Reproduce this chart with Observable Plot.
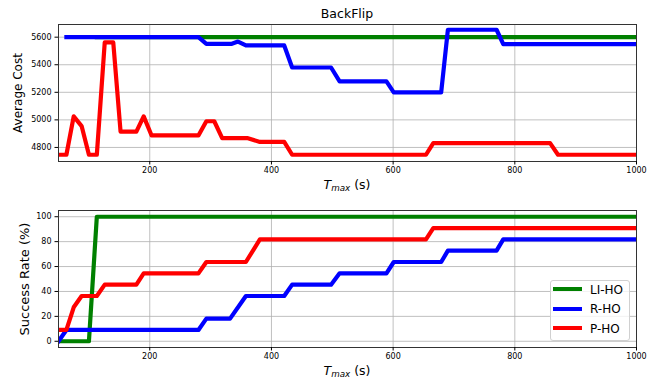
<!DOCTYPE html>
<html>
<head>
<meta charset="utf-8">
<script src="https://cdn.jsdelivr.net/npm/d3@7"></script>
<script src="https://cdn.jsdelivr.net/npm/@observablehq/plot@0.6"></script>
<style>
  html, body { margin: 0; padding: 0; background: #fff; }
  #wrap { position: relative; width: 657px; height: 383px; overflow: hidden; font-family: "DejaVu Sans", sans-serif; }
  #wrap svg { position: absolute; left: 0; }
  .t { position: absolute; line-height: 1; white-space: nowrap; color: #000; font-family: "DejaVu Sans", sans-serif; }
  .t sub { font-size: 70%; vertical-align: -0.2em; line-height: 0; }
  .rot { transform: translate(-50%, -50%) rotate(-90deg); }
</style>
</head>
<body>
<div id="wrap"></div>
<script>
// ---------- data ----------
const seriesNames = ["LI-HO", "R-HO", "P-HO"];
const seriesColors = ["#008000", "#0000ff", "#ff0000"];

const xTicks = [200, 400, 600, 800, 1000];
const costTicks = [4800, 5000, 5200, 5400, 5600];
const rateTicks = [0, 20, 40, 60, 80, 100];

// Average cost (top panel)
const costLI_x = [113, 1000];
const costLI_y = [5600, 5600];
const costR_x = [63, 280, 293, 335, 345, 358, 421, 434, 498, 512, 589, 601, 679, 690, 770, 781, 1000];
const costR_y = [5600, 5600, 5552, 5552, 5568, 5540, 5540, 5380, 5380, 5280, 5280, 5200, 5200, 5654, 5654, 5550, 5550];
const costP_x = [50, 63, 75, 88, 100, 113, 126, 140, 152, 178, 190, 203, 280, 293, 306, 319, 360, 381, 421, 434, 654, 666, 858, 871, 1000];
const costP_y = [4747, 4747, 5025, 4955, 4747, 4747, 5562, 5562, 4915, 4915, 5025, 4887, 4887, 4990, 4990, 4868, 4868, 4840, 4840, 4747, 4747, 4831, 4831, 4747, 4747];

// Success rate (bottom panel)
const rateLI_x = [50, 100, 113, 1000];
const rateLI_y = [0, 0, 100, 100];
const rateR_x = [50, 63, 280, 293, 332, 358, 421, 434, 498, 512, 589, 601, 679, 690, 770, 781, 1000];
const rateR_y = [0, 9.09, 9.09, 18.18, 18.18, 36.36, 36.36, 45.45, 45.45, 54.55, 54.55, 63.64, 63.64, 72.73, 72.73, 81.82, 81.82];
const rateP_x = [50, 63, 75, 88, 113, 126, 178, 190, 280, 293, 358, 381, 654, 666, 1000];
const rateP_y = [9.09, 9.09, 27.27, 36.36, 36.36, 45.45, 45.45, 54.55, 54.55, 63.64, 63.64, 81.82, 81.82, 90.91, 90.91];

// ---------- build ----------
const rows = (xs, ys, name) => xs.map((x, i) => ({x, y: ys[i], series: name}));
const costData = [
  ...rows(costLI_x, costLI_y, "LI-HO"),
  ...rows(costR_x, costR_y, "R-HO"),
  ...rows(costP_x, costP_y, "P-HO")
];
const rateData = [
  ...rows(rateLI_x, rateLI_y, "LI-HO"),
  ...rows(rateR_x, rateR_y, "R-HO"),
  ...rows(rateP_x, rateP_y, "P-HO")
];

function panel({data, yDomain, yTicks, height, marginTop, marginBottom}) {
  return Plot.plot({
    width: 657, height, marginLeft: 58, marginRight: 21, marginTop, marginBottom,
    style: {fontFamily: "DejaVu Sans, sans-serif", fontSize: "8px", color: "#000", background: "transparent"},
    x: {domain: [50, 1000]},
    y: {domain: yDomain},
    color: {domain: seriesNames, range: seriesColors},
    marks: [
      Plot.gridX(xTicks, {stroke: "#b0b0b0", strokeOpacity: 1, strokeWidth: 0.8}),
      Plot.gridY(yTicks, {stroke: "#b0b0b0", strokeOpacity: 1, strokeWidth: 0.8}),
      Plot.line(data, {x: "x", y: "y", z: "series", stroke: "series", strokeWidth: 4.2,
        strokeLinejoin: "round", strokeLinecap: "square", clip: true}),
      Plot.frame({stroke: "#333", strokeWidth: 1}),
      Plot.axisX(xTicks, {tickSize: 3.5, tickPadding: 2, label: null, tickFormat: d3.format("d"), fontSize: 8}),
      Plot.axisY(yTicks, {tickSize: 3.5, tickPadding: 3.5, label: null, tickFormat: d3.format("d"), fontSize: 8})
    ]
  });
}

const wrap = document.getElementById("wrap");
const top1 = panel({data: costData, yDomain: [4698, 5692], yTicks: costTicks, height: 195, marginTop: 24, marginBottom: 34});
top1.style.top = "0px";
wrap.appendChild(top1);
const bot = panel({data: rateData, yDomain: [-5, 105], yTicks: rateTicks, height: 188, marginTop: 15, marginBottom: 36});
bot.style.top = "195px";
wrap.appendChild(bot);

function addText(html, css) {
  const d = document.createElement("div");
  d.className = "t";
  d.innerHTML = html;
  Object.assign(d.style, css);
  wrap.appendChild(d);
  return d;
}
// title
addText("BackFlip", {left: "347px", top: "7.5px", fontSize: "12.5px", transform: "translateX(-50%)"});
// x labels
const xLabel = "<i>T</i><sub><i>max</i></sub> (s)";
addText(xLabel, {left: "347px", top: "179px", fontSize: "12.5px", transform: "translateX(-50%)"});
addText(xLabel, {left: "347px", top: "365px", fontSize: "12.5px", transform: "translateX(-50%)"});
// y labels
const yl1 = addText("Average Cost", {left: "18px", top: "92.5px", fontSize: "12px"});
yl1.classList.add("rot");
const yl2 = addText("Success Rate (%)", {left: "24px", top: "279px", fontSize: "13px"});
yl2.classList.add("rot");

// legend
const leg = document.createElement("div");
Object.assign(leg.style, {position: "absolute", left: "550px", top: "280px", width: "80px", height: "61px",
  border: "1px solid #d0d0d0", borderRadius: "3px", background: "rgba(255,255,255,0.8)", boxSizing: "border-box"});
wrap.appendChild(leg);
const legY = [289.3, 309, 328.3];
seriesNames.forEach((name, i) => {
  const ln = document.createElement("div");
  Object.assign(ln.style, {position: "absolute", left: "552.5px", width: "29px", height: "4px",
    top: (legY[i] - 2) + "px", background: seriesColors[i]});
  wrap.appendChild(ln);
  addText(name, {left: "590px", top: (legY[i] - 5.8) + "px", fontSize: "12px"});
});
</script>
</body>
</html>
